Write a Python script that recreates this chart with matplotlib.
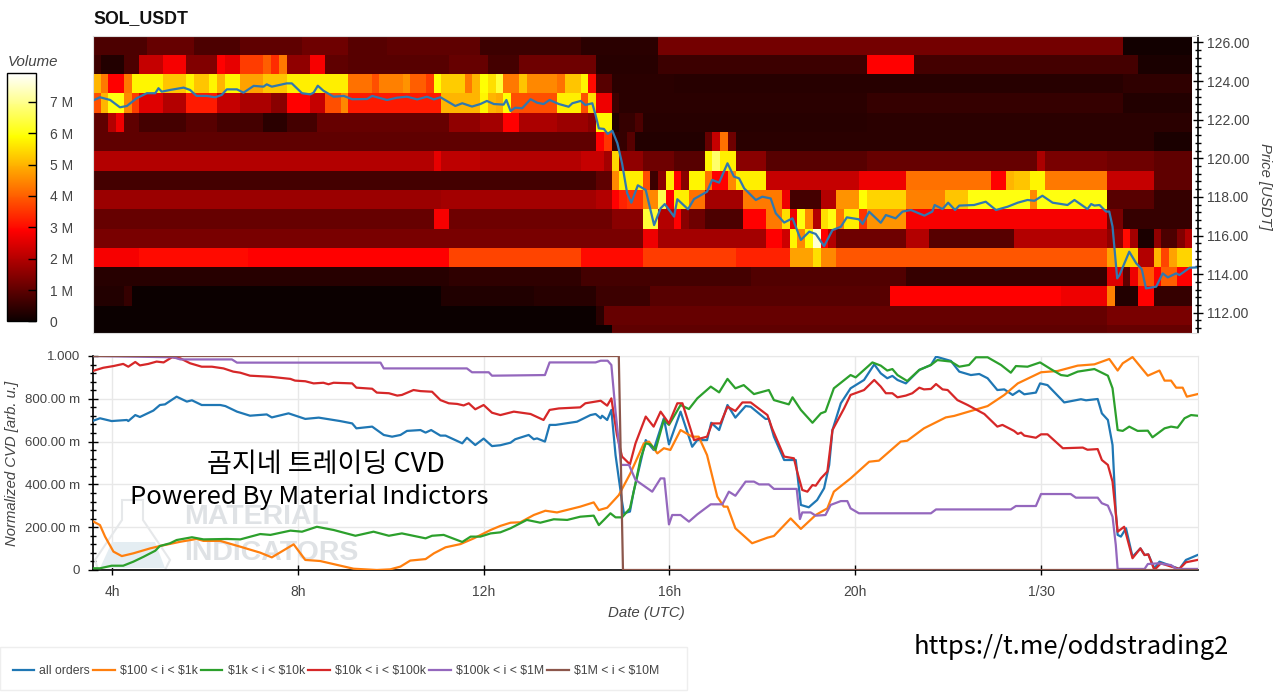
import matplotlib
matplotlib.use('Agg')
import matplotlib.pyplot as plt
import numpy as np
from matplotlib.cm import ScalarMappable
from matplotlib.colors import Normalize
from matplotlib.lines import Line2D
from matplotlib.patches import Polygon, Rectangle
from matplotlib.ticker import FixedLocator, MultipleLocator

plt.rcParams['font.family'] = ['Liberation Sans', 'DejaVu Sans']

# heatmap rows, top to bottom, as (number of 10 min cells, volume in M)
row_00 = [(7,.8),(6,1.1),(6,.8),(8,1.0),(6,1.2),(5,.9),(12,1.0),(13,.6),(10,.4),(60,1.25),(9,.1)]
row_01 = [(1,.6),(3,.3),(2,.8),(3,2.2),(3,2.8),(4,1.4),(1,2.9),(2,2.6),(3,3.6),(1,4.0),(1,3.4),(1,4.3),(3,1.6),(2,2.8),(3,1.0),(13,.9),(5,1.1),(4,.7),(10,1.2),(8,.35),(27,.6),(6,2.9),(29,.7),(7,.2)]
row_02 = [(1,5.0),(1,4.3),(2,2.9),(1,4.3),(4,5.8),(3,5.2),(1,5.8),(2,5.2),(1,5.8),(1,5.0),(2,5.8),(3,4.8),(3,5.2),(8,5.7),(3,4.2),(1,3.8),(3,4.4),(1,4.6),(2,4.0),(1,3.6),(1,5.9),(3,5.3),(1,4.3),(1,5.0),(1,5.9),(1,5.5),(1,6.3),(2,4.3),(1,5.2),(4,4.5),(1,4.2),(2,5.2),(1,5.8),(1,3.0),(2,.9),(8,.4),(58,.35),(9,.45)]
row_03 = [(1,3.8),(1,5),(2,6),(1,4.5),(1,3.6),(3,2.5),(3,2.0),(4,3.2),(3,2.2),(4,1.9),(2,1.5),(3,2.9),(2,2.2),(2,3.8),(1,4.5),(12,3.2),(5,5.0),(1,5.8),(1,5),(1,4.9),(1,5.9),(6,3.8),(3,5.7),(1,3.8),(1,5.5),(2,2.7),(1,.6),(32,.4),(33,.5),(9,.3)]
row_04 = [(2,1.0),(1,2),(1,2.7),(2,1.0),(6,.7),(4,.9),(6,.7),(3,.4),(4,.7),(17,1.1),(4,1.6),(3,1.8),(2,2.9),(5,1.9),(4,1.7),(1,1.5),(2,5.8),(1,.3),(2,.5),(1,.8),(29,.35),(42,.38)]
row_05 = [(65,1.0),(1,2.9),(1,3.5),(2,.5),(1,.9),(9,.3),(1,1.1),(1,2.2),(1,4.2),(1,1.2),(54,.4),(5,.2)]
row_06 = [(44,2.0),(1,2.6),(5,2.1),(13,2.0),(3,2.2),(1,1.8),(1,5.4),(3,1.6),(4,1.2),(4,.9),(1,5.8),(1,6.7),(2,5.7),(4,1.5),(13,.9),(22,1.1),(1,1.9),(8,1.3),(6,1.2),(5,1.0)]
row_07 = [(65,.7),(2,1.0),(1,4.5),(3,5.7),(1,3.8),(1,.6),(1,1.5),(1,5.7),(1,2.9),(1,1.5),(2,5.8),(1,4.2),(2,2.9),(1,4.5),(4,5.7),(12,2.2),(6,2.7),(11,4.2),(2,2.9),(1,5),(2,5.2),(2,5.8),(8,4.3),(6,2.2),(5,1.0)]
row_08 = [(45,1.7),(20,1.8),(2,2.0),(1,2.9),(1,3.3),(2,3.5),(2,4.5),(1,6.5),(1,2.9),(2,5.7),(2,4.2),(5,1.8),(5,4.3),(1,2.7),(4,.7),(2,2.0),(3,4.6),(1,5.9),(5,5.4),(5,4.4),(3,5.2),(8,6.0),(1,4.5),(9,6.0),(6,.9),(5,.5)]
row_09 = [(44,1.1),(2,2.8),(21,1.2),(4,1.5),(2,6.3),(2,2.0),(1,2.9),(1,1.5),(2,1.2),(5,.8),(3,2.9),(2,4.3),(1,5.5),(1,2.7),(1,6),(1,4.5),(1,2),(1,5.5),(1,6),(1,4.3),(2,5.7),(1,3.5),(5,4.6),(26,2.8),(2,1.3),(9,.5)]
row_10 = [(71,1.3),(2,2.7),(14,1.8),(2,2.9),(1,2.3),(1,5.8),(1,4.5),(1,5.9),(1,7.5),(1,2.9),(1,2.0),(9,1.2),(3,2.0),(11,.9),(12,2.0),(2,1.6),(1,3.0),(1,1.8),(2,.2),(1,1.6),(2,.8),(1,1.4),(1,2.0)]
row_11 = [(6,2.8),(14,3.0),(26,2.9),(17,3.7),(8,3.0),(12,3.6),(7,3.3),(3,4.8),(1,5.5),(2,4.5),(35,3.9),(1,4.8),(3,5.4),(2,2.0),(1,5),(1,3.7),(1,4.8),(2,5.4)]
row_12 = [(46,.35),(17,.45),(22,.7),(20,.85),(26,.5),(2,2.5),(1,1),(1,2.7),(2,3.9),(1,2.9),(2,4),(2,2.9)]
row_13 = [(4,.3),(1,.5),(40,.03),(12,.25),(8,.35),(7,.6),(31,.9),(22,2.9),(6,2.7),(1,4.4),(3,.3),(2,2.9),(5,.5)]
row_14 = [(65,.03),(1,.4),(34,1.1),(31,1.1),(11,1.3)]
row_15 = [(67,.03),(64,1.0),(11,1.1)]
heat_rows = [row_00, row_01, row_02, row_03, row_04, row_05, row_06, row_07,
             row_08, row_09, row_10, row_11, row_12, row_13, row_14, row_15]
price_edges = [126.36, 125.36, 124.36, 123.36, 122.36, 121.36, 120.36, 119.36,
               118.36, 117.36, 116.36, 115.36, 114.36, 113.36, 112.36, 111.36, 110.95]

# hours since 00:00 on the first day
price_t = [3.59,3.74,3.96,4.17,4.32,4.53,4.75,4.93,5.0,5.07,5.25,5.54,5.68,5.82,6.04,6.22,6.36,6.47,6.69,6.83,7.05,7.26,7.33,7.44,7.76,7.87,8.09,8.27,8.34,8.43,8.55,8.77,8.99,9.17,9.49,9.6,9.92,10.14,10.35,10.57,10.78,10.93,11.07,11.39,11.54,11.75,11.93,12.07,12.22,12.43,12.49,12.58,12.68,12.83,13.01,13.15,13.29,13.42,13.62,13.83,13.91,14.09,14.19,14.34,14.41,14.48,14.59,14.67,14.77,14.88,14.98,15.09,15.18,15.32,15.49,15.67,15.81,15.90,16.10,16.17,16.40,16.53,16.81,16.92,17.07,17.25,17.39,17.5,17.61,17.86,18.0,18.18,18.29,18.47,18.65,18.83,19.01,19.15,19.33,19.51,19.69,19.82,20.08,20.16,20.3,20.55,20.66,20.87,21.02,21.2,21.49,21.66,21.71,21.88,22.0,22.15,22.24,22.56,22.81,23.03,23.28,23.5,23.71,23.86,24.03,24.25,24.57,24.72,25.0,25.08,25.15,25.26,25.4,25.47,25.54,25.64,25.69,25.9,26.05,26.17,26.26,26.48,26.62,26.73,26.91,26.98,27.2,27.38]
price_v = [122.99,123.16,123.02,122.64,122.71,123.11,123.37,123.37,123.63,123.45,123.54,123.66,123.54,123.23,123.23,123.16,123.28,123.57,123.57,123.40,123.75,123.71,123.83,123.71,123.88,123.88,123.37,123.31,123.4,123.76,123.5,123.19,123.23,123.06,123.07,123.23,123.02,123.14,123.19,123.05,123.19,123.05,123.16,122.71,122.85,122.68,122.81,122.97,122.81,122.78,123.02,122.45,122.62,122.59,123.06,122.88,122.81,123.02,122.81,122.67,122.85,122.97,122.76,122.85,122.24,121.55,121.52,121.26,121.43,120.78,119.74,118.19,117.70,118.6,118.36,116.54,117.41,117.63,116.98,117.88,117.36,117.89,118.27,118.88,118.74,119.74,119.05,118.96,118.44,117.84,118.01,117.92,117.15,116.67,116.89,115.77,116.2,116.08,115.45,116.28,116.45,116.94,116.84,116.6,117.23,116.66,117.06,116.89,117.24,117.32,117.03,117.24,117.58,117.37,117.7,117.32,117.55,117.58,117.75,117.32,117.49,117.7,117.84,117.8,118.06,117.7,117.58,117.84,117.37,117.63,117.55,117.58,117.24,117.24,116.46,113.78,113.95,115.16,114.56,114.25,113.26,113.35,114.04,113.83,114.04,113.95,114.33,114.35]

blue_t = [3.60,3.74,3.99,4.32,4.35,4.50,4.60,4.89,5.03,5.14,5.39,5.61,5.72,5.93,6.33,6.44,6.69,6.97,7.33,7.44,7.80,8.16,8.45,8.91,9.17,9.26,9.60,9.85,10.03,10.21,10.35,10.64,10.75,10.87,11.07,11.18,11.54,11.64,11.82,12.0,12.18,12.36,12.58,12.68,12.97,13.08,13.15,13.32,13.42,13.55,14.01,14.30,14.41,14.52,14.55,14.66,14.75,14.84,14.98,15.02,15.15,15.23,15.49,15.66,15.88,15.99,16.24,16.49,16.60,16.81,16.90,17.07,17.25,17.42,17.64,17.75,18.07,18.14,18.25,18.47,18.72,18.83,19.0,19.18,19.33,19.44,19.51,19.69,19.90,20.19,20.41,20.55,20.69,20.80,20.91,21.09,21.38,21.63,21.74,22.06,22.24,22.49,22.67,22.85,23.06,23.21,23.39,23.53,23.64,23.89,23.98,24.14,24.50,24.86,24.97,25.22,25.31,25.44,25.54,25.61,25.65,25.72,25.83,25.97,26.14,26.23,26.31,26.44,26.55,26.84,26.98,27.12,27.37]
blue_v = [.698,.709,.696,.701,.696,.724,.715,.745,.771,.774,.810,.787,.793,.771,.771,.766,.740,.721,.727,.713,.732,.706,.712,.696,.685,.662,.670,.631,.623,.631,.650,.654,.642,.654,.628,.628,.592,.618,.584,.614,.579,.583,.595,.611,.631,.611,.615,.600,.678,.678,.693,.724,.729,.709,.721,.701,.748,.537,.319,.265,.273,.366,.607,.561,.709,.587,.740,.576,.607,.607,.688,.654,.771,.712,.766,.763,.706,.706,.623,.514,.514,.304,.293,.327,.382,.491,.654,.779,.849,.888,.961,.919,.896,.907,.888,.872,.935,.958,.997,.977,.927,.911,.916,.896,.841,.844,.818,.838,.821,.829,.872,.864,.783,.798,.793,.799,.732,.701,.584,.273,.164,.156,.195,.062,.101,.070,.073,.008,.039,.016,.005,.047,.070]

orange_t = [3.60,3.74,3.85,4.03,4.21,4.46,4.82,5.03,5.47,5.82,5.97,6.33,6.76,7.19,7.44,7.91,8.16,8.48,9.20,9.70,9.99,10.21,10.42,10.75,10.93,11.18,11.50,11.79,12.15,12.36,12.58,12.79,13.08,13.33,13.58,14.08,14.37,14.48,14.66,14.91,15.16,15.45,15.56,15.74,15.88,16.02,16.24,16.49,16.63,16.81,17.03,17.17,17.25,17.42,17.78,18.11,18.25,18.61,18.83,19.15,19.40,19.54,19.90,20.30,20.51,20.98,21.12,21.48,21.95,22.13,22.85,23.21,23.50,24.0,24.36,24.79,25.15,25.47,25.65,25.76,25.97,26.30,26.55,26.66,26.80,26.91,27.05,27.14,27.37]
orange_v = [.226,.210,.156,.086,.065,.078,.101,.112,.132,.145,.136,.136,.109,.081,.059,.120,.047,.042,.006,0,.003,.016,.044,.051,.078,.106,.121,.148,.187,.206,.221,.223,.257,.277,.269,.296,.316,.280,.291,.350,.452,.592,.600,.545,.569,.561,.654,.623,.623,.537,.343,.296,.296,.195,.125,.151,.159,.241,.192,.257,.288,.366,.428,.506,.511,.600,.604,.662,.713,.720,.766,.818,.872,.924,.930,.955,.961,.986,.932,.966,.995,.908,.932,.885,.885,.852,.852,.810,.822]

green_t = [3.60,3.74,3.99,4.24,4.46,4.68,4.93,5.03,5.25,5.39,5.72,5.97,6.47,6.76,7.19,7.41,7.84,8.09,8.41,8.77,9.24,9.63,9.96,10.24,10.75,10.89,11.14,11.54,11.72,11.93,12.15,12.36,12.58,12.93,13.22,13.51,13.80,14.08,14.37,14.48,14.59,14.73,14.84,14.98,15.15,15.27,15.38,15.49,15.59,15.70,15.88,15.99,16.24,16.42,16.60,16.89,17.07,17.25,17.42,17.60,17.82,18.14,18.25,18.57,18.65,18.83,19.08,19.26,19.36,19.54,19.90,20.01,20.37,20.55,20.69,20.80,20.91,21.12,21.38,21.63,21.77,22.06,22.24,22.45,22.60,22.85,23.14,23.35,23.46,23.71,23.98,24.21,24.43,24.57,24.79,25.15,25.44,25.54,25.65,25.76,25.90,26.08,26.30,26.40,26.66,26.80,26.94,27.09,27.23,27.37]
green_v = [.008,.008,.020,.020,.039,.062,.090,.112,.125,.140,.153,.143,.145,.143,.168,.164,.184,.179,.202,.187,.160,.179,.160,.171,.148,.160,.164,.131,.156,.156,.171,.176,.195,.234,.221,.237,.234,.249,.254,.210,.234,.265,.246,.246,.288,.405,.522,.592,.587,.561,.701,.678,.771,.752,.802,.857,.830,.893,.849,.864,.822,.841,.794,.774,.807,.748,.688,.732,.740,.849,.911,.900,.970,.955,.932,.939,.911,.883,.935,.958,.981,.974,.950,.958,.994,.994,.958,.922,.953,.950,.970,.939,.911,.907,.927,.939,.908,.849,.654,.650,.670,.650,.651,.620,.662,.670,.665,.709,.724,.721]

red_t = [3.60,3.81,4.03,4.24,4.35,4.50,4.60,4.78,4.96,5.11,5.29,5.47,5.68,5.93,6.15,6.40,6.61,6.76,6.97,7.41,7.84,7.94,8.16,8.34,8.55,8.66,8.77,9.17,9.26,9.60,9.70,9.96,10.14,10.24,10.49,10.64,10.89,11.07,11.25,11.43,11.57,11.68,11.82,12.0,12.18,12.36,12.65,13.01,13.29,13.42,13.62,14.08,14.19,14.52,14.66,14.75,14.87,14.98,15.15,15.27,15.49,15.66,15.81,15.99,16.17,16.28,16.53,16.81,16.92,17.10,17.25,17.42,17.57,17.75,18.11,18.21,18.47,18.68,18.75,18.86,18.97,19.08,19.15,19.26,19.40,19.51,19.76,19.90,20.19,20.41,20.55,20.66,20.80,20.91,21.09,21.23,21.38,21.48,21.63,21.74,21.88,21.99,22.20,22.42,22.78,23.06,23.17,23.42,23.50,23.57,23.64,23.89,24.0,24.14,24.47,24.90,25.0,25.22,25.31,25.44,25.54,25.65,25.79,25.97,26.14,26.23,26.31,26.44,26.58,26.80,26.98,27.12,27.37]
red_v = [.931,.945,.953,.963,.950,.972,.956,.963,.974,.970,.994,.989,.966,.950,.950,.942,.927,.922,.908,.903,.893,.885,.882,.872,.875,.868,.875,.872,.852,.847,.829,.826,.815,.818,.841,.836,.833,.794,.779,.776,.769,.779,.751,.771,.735,.724,.740,.729,.701,.748,.755,.760,.779,.791,.768,.802,.631,.530,.494,.592,.717,.670,.740,.685,.779,.779,.607,.623,.685,.685,.763,.743,.783,.783,.724,.662,.530,.522,.460,.374,.366,.397,.394,.428,.460,.654,.755,.818,.841,.888,.857,.826,.826,.807,.815,.826,.852,.844,.846,.869,.844,.841,.794,.771,.729,.670,.678,.650,.636,.642,.628,.618,.634,.634,.569,.572,.562,.565,.514,.491,.413,.179,.202,.055,.101,.070,.073,0,.031,.016,.005,.036,.047]

purple_t = [3.60,5.32,5.47,6.58,6.69,9.78,9.85,11.64,11.75,12.11,12.18,13.32,13.42,14.41,14.52,14.67,14.75,14.84,14.96,15.13,15.27,15.63,15.81,15.89,15.99,16.06,16.24,16.42,16.60,16.89,17.14,17.28,17.42,17.64,17.82,17.93,18.14,18.25,18.74,18.81,18.86,19.04,19.15,19.36,19.47,19.69,19.83,19.90,20.08,21.63,21.74,23.35,23.46,23.89,24.0,24.64,24.75,25.22,25.31,25.44,25.54,25.61,25.65,26.23,26.30,26.52,26.80,26.91,27.37]
purple_v = [1.0,.994,.984,.984,.969,.969,.942,.942,.924,.924,.908,.911,.970,.970,.978,.978,.958,.740,.491,.491,.421,.366,.428,.428,.213,.257,.257,.226,.260,.307,.307,.366,.347,.413,.413,.400,.400,.379,.379,.238,.269,.269,.254,.257,.304,.322,.322,.288,.265,.265,.283,.283,.299,.299,.355,.355,.338,.338,.312,.301,.249,.117,.005,.005,.028,.031,.023,.005,.005]

brown_t = [3.60, 14.91, 15.0, 27.38]
brown_v = [1.0, 1.0, 0.0, 0.0]

series_labels = ['all orders', r'\$100 < i < \$1k', r'\$1k < i < \$10k', r'\$10k < i < \$100k',
                 r'\$100k < i < \$1M', r'\$1M < i < \$10M']
series_colors = ['#1f77b4', '#ff7f0e', '#2ca02c', '#d62728', '#9467bd', '#8c564b']
hour_ticks = [4, 8, 12, 16, 20, 24]
hour_labels = ['4h', '8h', '12h', '16h', '20h', '1/30']
volume_ticks = [0, 1, 2, 3, 4, 5, 6, 7]
volume_labels = ['0', '1 M', '2 M', '3 M', '4 M', '5 M', '6 M', '7 M']
cvd_ticks = [0, .2, .4, .6, .8, 1.0]
cvd_labels = ['0', '200.00 m', '400.00 m', '600.00 m', '800.00 m', '1.000']

W, H = 1280, 693
TXT = '#444444'
T0, T1 = 3.59, 27.38


def box(left, top, right, bottom):
    # pixel box of the reference to figure fractions
    return [left / W, 1 - bottom / H, (right - left) / W, (bottom - top) / H]


fig = plt.figure(figsize=(W / 100, H / 100), dpi=100)

# heatmap
ax_top = fig.add_axes(box(93, 35.5, 1198, 333))
volume = np.array([np.repeat([c[1] for c in r], [c[0] for c in r]) for r in heat_rows])
time_edges = T0 + np.arange(volume.shape[1] + 1) / 6
ax_top.pcolormesh(time_edges, price_edges, volume, cmap='hot', vmin=0, vmax=7.9, antialiased=False)
ax_top.plot(price_t, price_v, color='#2f78b0', lw=1.6)
ax_top.set_xlim(T0, T1)
ax_top.set_ylim(110.95, 126.36)
ax_top.set_xticks([])
ax_top.yaxis.tick_right()
ax_top.set_yticks(np.arange(112, 127, 2))
ax_top.set_yticklabels(['%.2f' % p for p in np.arange(112, 127, 2)], fontsize=10, color=TXT)
ax_top.yaxis.set_minor_locator(MultipleLocator(0.4))
ax_top.tick_params(axis='y', which='major', length=7, width=1, direction='inout', pad=3)
ax_top.tick_params(axis='y', which='minor', length=4, width=1, direction='inout')
for side in ['top', 'bottom', 'left']:
    ax_top.spines[side].set_color('#dddddd')
ax_top.spines['right'].set_linewidth(1.2)
fig.text(1265 / W, 1 - 186 / H, 'Price [USDT]', rotation=270, style='italic', fontsize=10.7,
         color=TXT, ha='center', va='center')
fig.text(93 / W, 1 - 18.5 / H, 'SOL_USDT', fontsize=12.8, fontweight='bold', color='#111111',
         ha='left', va='center')

# colour bar
cax = fig.add_axes(box(7, 73.5, 36, 321.5))
sm = ScalarMappable(norm=Normalize(0, 7.9), cmap='hot')
cbar = fig.colorbar(sm, cax=cax)
cbar.set_ticks(volume_ticks)
cbar.set_ticklabels(volume_labels)
cbar.ax.tick_params(length=6, width=1, direction='in', pad=10, labelsize=10, labelcolor=TXT)
cbar.outline.set_linewidth(1)
fig.text(8 / W, 1 - 62.5 / H, 'Volume', style='italic', fontsize=10.8, color=TXT, ha='left', va='center')

# CVD panel
ax = fig.add_axes(box(93, 356, 1198, 570))
ax.set_xlim(T0, T1)
ax.set_ylim(0, 1)
ax.grid(True, color='#e8e8e8', lw=1)
ax.set_axisbelow(True)

# watermark
flask = [(122, 500), (143, 500), (143, 520), (170, 560), (165, 570), (98, 570), (95, 560), (122, 520)]
liquid = [(112, 542), (155, 542), (165, 568), (100, 568)]
to_ax = lambda pts: [((x - 93) / 1105, (570 - y) / 214) for x, y in pts]
ax.add_patch(Polygon(to_ax(flask), closed=True, fill=False, ec='#e6e8ea', lw=1.5, transform=ax.transAxes, zorder=1))
ax.add_patch(Polygon(to_ax(liquid), closed=True, fc='#e4edf2', ec='none', transform=ax.transAxes, zorder=1))
for word, py in [('MATERIAL', 517), ('INDICATORS', 553.5)]:
    ax.text((184 - 93) / 1105, (570 - py) / 214, word, transform=ax.transAxes, fontsize=20.5,
            fontweight='bold', color='#dfe2e5', ha='left', va='center', zorder=1)

series = [(blue_t, blue_v), (orange_t, orange_v), (green_t, green_v), (red_t, red_v),
          (purple_t, purple_v), (brown_t, brown_v)]
for (ts, vs), color in zip(series, series_colors):
    ax.plot(ts, vs, color=color, lw=1.6, clip_on=True, zorder=3)

ax.set_xticks(hour_ticks)
ax.set_xticklabels(hour_labels, fontsize=10, color=TXT)
ax.set_yticks(cvd_ticks)
ax.set_yticklabels(cvd_labels, fontsize=9.5, color=TXT)
ax.yaxis.set_minor_locator(FixedLocator(np.arange(0, 1.001, 0.04)))
ax.tick_params(axis='x', which='major', length=7, width=1, direction='inout', pad=7.5)
ax.tick_params(axis='y', which='major', length=7, width=1, direction='inout', pad=6)
ax.tick_params(axis='y', which='minor', length=4, width=1, direction='inout')
ax.spines['top'].set_color('#e8e8e8')
ax.spines['right'].set_color('#e8e8e8')
ax.spines['left'].set_linewidth(1.2)
ax.spines['bottom'].set_linewidth(1.2)
fig.text(12 / W, 1 - 463 / H, 'Normalized CVD [arb. u.]', rotation=90, style='italic', fontsize=10.7,
         color=TXT, ha='center', va='center')
fig.text(646 / W, 1 - 613 / H, 'Date (UTC)', style='italic', fontsize=10.8, color=TXT, ha='center', va='center')

# pasted-on captions
cjk = ['Noto Sans CJK KR', 'DejaVu Sans']
fig.text(326 / W, 1 - 465 / H, '곰지네 트레이딩 CVD', family=cjk, fontsize=19.5, color='black', ha='center', va='center', zorder=6)
fig.text(309.5 / W, 1 - 496.5 / H, 'Powered By Material Indictors', family=cjk, fontsize=18.4, color='black', ha='center', va='center', zorder=6)
fig.text(1071 / W, 1 - 647 / H, 'https://t.me/oddstrading2', family=cjk, fontsize=18.4, color='black', ha='center', va='center')

# legend
fig.patches.append(Rectangle((0, 1 - 690 / H), 687 / W, 43 / H, transform=fig.transFigure,
                             fc='white', ec='#eeeeee', lw=1))
handles = [Line2D([], [], color=c, lw=1.6) for c in series_colors]
fig.legend(handles, series_labels, loc='center left', bbox_to_anchor=(4 / W, 1 - 671 / H), ncol=6,
           frameon=False, fontsize=8.8, labelcolor=TXT, handlelength=1.75, handletextpad=0.45,
           columnspacing=0.25, borderpad=0.2)

fig.savefig('out.png', dpi=100)
